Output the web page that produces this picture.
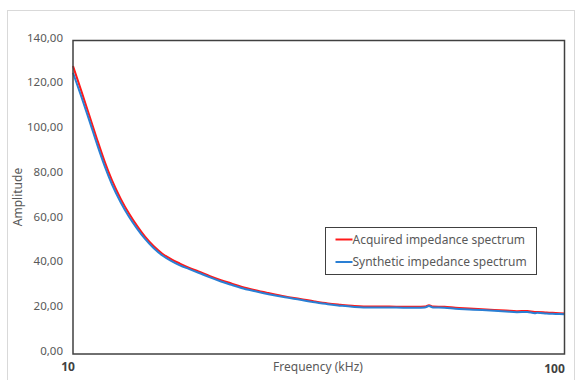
<!DOCTYPE html>
<html>
<head>
<meta charset="utf-8">
<script src="https://cdn.jsdelivr.net/npm/d3@7"></script>
<style>
  body { margin: 0; background: #fff; }
  svg { display: block; font-family: "Noto Sans", "DejaVu Sans", sans-serif; }
</style>
</head>
<body>
<div id="chart"></div>
<script>
// frequencies (kHz)
const frequencies = [10, 10.4, 10.8, 11.2, 11.6, 12, 12.5, 13, 13.5, 14, 14.6, 15.2, 15.8, 16.5, 17.2, 18, 19, 20, 21, 22, 23.5, 25, 27, 29, 31, 33, 35, 37, 39, 41, 44, 47, 50, 52, 53, 54, 57, 60, 64, 68, 72, 76, 80, 84, 87, 88, 92, 96, 100];
const acquired = [128.6, 117.4, 106.4, 95.7, 85.9, 77.6, 69.4, 62.7, 57.2, 52.5, 48.1, 44.8, 42.5, 40.4, 38.6, 36.9, 34.8, 33.0, 31.5, 30.1, 28.5, 27.2, 25.7, 24.6, 23.5, 22.6, 22.0, 21.5, 21.2, 21.2, 21.2, 21.1, 21.1, 21.2, 21.8, 21.2, 21.1, 20.6, 20.3, 20.0, 19.7, 19.4, 19.1, 19.2, 18.8, 18.8, 18.5, 18.3, 18.1];
const synthetic = [125.6, 114.9, 104.1, 93.5, 83.9, 75.8, 67.8, 61.3, 56.0, 51.5, 47.2, 44.0, 41.7, 39.6, 38.0, 36.3, 34.2, 32.4, 30.9, 29.5, 28.0, 26.7, 25.3, 24.2, 23.1, 22.2, 21.6, 21.1, 20.8, 20.8, 20.8, 20.7, 20.7, 20.8, 21.4, 20.8, 20.7, 20.2, 19.9, 19.6, 19.3, 19.0, 18.7, 18.8, 18.2, 18.4, 18.1, 17.9, 17.7];
const yTicks = [0, 20, 40, 60, 80, 100, 120, 140];
const xTicks = [10, 100];
const seriesNames = ["Acquired impedance spectrum", "Synthetic impedance spectrum"];
const seriesColors = ["#ff1a1a", "#2a7fd4"];

const width = 576;
const height = 380;
const margin = { top: 40.5, right: 11.5, bottom: 26, left: 73 };

const svg = d3
  .select("#chart")
  .append("svg")
  .attr("width", width)
  .attr("height", height);

// outer chart frame
svg
  .append("rect")
  .attr("x", 7.5)
  .attr("y", 10.5)
  .attr("width", 567)
  .attr("height", 380)
  .attr("fill", "#fff")
  .attr("stroke", "#d9d9d9");

const x = d3
  .scaleLog()
  .domain([10, 100])
  .range([margin.left, width - margin.right]);

const y = d3
  .scaleLinear()
  .domain([0, 140])
  .range([height - margin.bottom, margin.top]);

// y tick labels
svg
  .selectAll("text.ytick")
  .data(yTicks)
  .enter()
  .append("text")
  .attr("class", "ytick")
  .attr("x", 63)
  .attr("y", (d) => y(d) - 3)
  .attr("dy", "0.35em")
  .attr("text-anchor", "end")
  .attr("font-size", "11.5px")
  .attr("fill", "#595959")
  .text((d) => d3.format(".2f")(d).replace(".", ","));

// x tick labels (only the decades)
svg
  .selectAll("text.xtick")
  .data(xTicks)
  .enter()
  .append("text")
  .attr("class", "xtick")
  .attr("x", (d) => x(d) - (d === 10 ? 5 : 10))
  .attr("y", (d) => (d === 10 ? 367 : 369))
  .attr("dy", "0.35em")
  .attr("text-anchor", "middle")
  .attr("font-size", "12px")
  .attr("font-weight", "bold")
  .attr("fill", "#404040")
  .text((d) => d);

// axis titles
svg
  .append("text")
  .attr("x", 318)
  .attr("y", 367)
  .attr("dy", "0.35em")
  .attr("text-anchor", "middle")
  .attr("font-size", "12px")
  .attr("fill", "#595959")
  .text("Frequency (kHz)");

svg
  .append("text")
  .attr("transform", "translate(18,197) rotate(-90)")
  .attr("dy", "0.35em")
  .attr("text-anchor", "middle")
  .attr("font-size", "12px")
  .attr("fill", "#595959")
  .text("Amplitude");

// lines
const line = d3
  .line()
  .x((d) => x(d[0]))
  .y((d) => y(d[1]))
  .curve(d3.curveMonotoneX);

[acquired, synthetic].forEach((vals, i) => {
  svg
    .append("path")
    .datum(frequencies.map((f, j) => [f, vals[j]]))
    .attr("fill", "none")
    .attr("stroke", seriesColors[i])
    .attr("stroke-width", 2)
    .attr("d", line);
});

// plot area border
svg
  .append("rect")
  .attr("x", margin.left)
  .attr("y", margin.top)
  .attr("width", width - margin.left - margin.right)
  .attr("height", height - margin.top - margin.bottom)
  .attr("fill", "none")
  .attr("stroke", "#404040")
  .attr("stroke-width", 1.5);

// legend
const legend = svg.append("g").attr("transform", "translate(325.5,227.5)");
legend
  .append("rect")
  .attr("width", 211)
  .attr("height", 47)
  .attr("fill", "#fff")
  .attr("stroke", "#404040");

seriesNames.forEach((name, i) => {
  const ly = 12 + i * 22.5;
  legend
    .append("line")
    .attr("x1", 10)
    .attr("x2", 27)
    .attr("y1", ly)
    .attr("y2", ly)
    .attr("stroke", seriesColors[i])
    .attr("stroke-width", 2);
  legend
    .append("text")
    .attr("x", 27)
    .attr("y", ly)
    .attr("dy", "0.35em")
    .attr("font-size", "12px")
    .attr("fill", "#595959")
    .text(name);
});
</script>
</body>
</html>
